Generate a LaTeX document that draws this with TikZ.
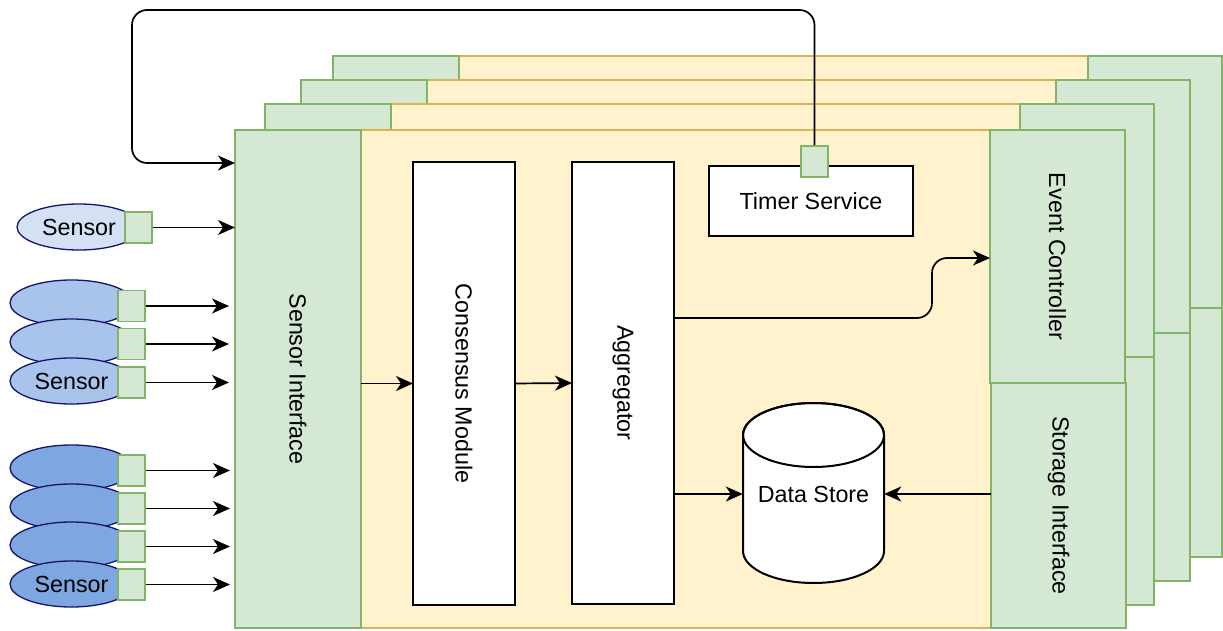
\documentclass[tikz,border=0pt]{standalone}
\usepackage{fontspec}
\setmainfont{Liberation Sans}
\usetikzlibrary{arrows.meta,shapes.geometric}

\definecolor{greenfill}{HTML}{D5E8D4}
\definecolor{greenline}{HTML}{82B366}
\definecolor{yelfill}{HTML}{FFF2CC}
\definecolor{yelline}{HTML}{D6B656}
\definecolor{sensA}{HTML}{D4E1F5}
\definecolor{sensB}{HTML}{A9C4EB}
\definecolor{sensC}{HTML}{7EA6E0}
\definecolor{sensline}{HTML}{14146E}

\tikzset{
  panel/.style={draw=greenline, fill=greenfill, line width=1.8pt},
  frame/.style={draw=yelline, fill=yelfill, line width=1.8pt},
  boxnode/.style={anchor=north west, inner sep=0pt, outer sep=0pt},
  comp/.style={draw=black, fill=white, line width=2pt},
  port/.style={draw=greenline, fill=greenfill, line width=1.8pt,
    minimum width=27pt, minimum height=31pt, inner sep=0pt},
  sensor/.style={ellipse, draw=sensline, line width=1.3pt,
    minimum width=123pt, minimum height=46pt, inner sep=0pt},
  flow/.style={line width=1.7pt, -{Stealth[length=17pt,width=15pt,inset=5pt]}},
  lbl/.style={font=\fontsize{23.3}{28}\selectfont}
}

% one stacked tier behind the front one:
% #1 left panel x, #2 right panel x, #3 top y, #4 split y, #5 bottom y
\newcommand{\backtier}[5]{%
  \path[frame] (#1+113,#3) rectangle (#2+20,#5);
  \path[panel] (#1,#3) rectangle (#1+126,#5);
  \path[panel] (#2,#3) rectangle (#2+134,#4);
  \path[panel] (#2,#4) rectangle (#2+134,#5);
}

\begin{document}
\begin{tikzpicture}[x=1pt, y=-1pt, lbl]
\useasboundingbox (0,0) rectangle (1223,631);

% stacked tiers, back to front
\backtier{333}{1088}{56}{308}{557}
\backtier{301}{1056}{80}{333}{581}
\backtier{265}{1020}{104}{357}{605}

% front tier
\path[frame] (348,130) rectangle (1010,628);
\node[panel, boxnode, minimum width=126pt, minimum height=498pt] (si) at (235,130)
  {\rotatebox{-90}{Sensor Interface}};
\node[panel, boxnode, minimum width=135pt, minimum height=253pt] (ec) at (990,130)
  {\rotatebox{-90}{Event Controller}};
\node[panel, boxnode, minimum width=135pt, minimum height=245pt] (sti) at (991,383)
  {\rotatebox{-90}{Storage Interface}};

% inner components
\node[comp, boxnode, minimum width=102pt, minimum height=443pt] (cm) at (413,162)
  {\rotatebox{-90}{Consensus Module}};
\node[comp, boxnode, minimum width=102pt, minimum height=442pt] (ag) at (572,162)
  {\rotatebox{-90}{Aggregator}};
\node[comp, boxnode, minimum width=204pt, minimum height=70pt] (ts) at (709,166)
  {Timer Service};
\node[port] (tport) at (814.5,161.5) {};

% data store cylinder
\filldraw[comp] (743,435) -- (743,551)
  arc[start angle=180, end angle=360, x radius=70.5pt, y radius=32pt]
  -- (884,435)
  arc[start angle=0, end angle=180, x radius=70.5pt, y radius=32pt] -- cycle;
\draw[line width=2pt] (813.5,435) ellipse[x radius=70.5pt, y radius=32pt];
\node[inner sep=0pt, minimum width=141pt, minimum height=180pt] (ds) at (813.5,494) {Data Store};

% sensors
\node[sensor, fill=sensA, minimum width=124pt] (s1) at (79,227) {Sensor};
\node[port] (p1) at (138.5,227.5) {};

\node[sensor, fill=sensB] (s2a) at (71.5,303) {};
\node[sensor, fill=sensB] (s2b) at (71.5,342) {};
\node[sensor, fill=sensB] (s2c) at (71.5,381) {Sensor};
\node[port] (p2a) at (131.5,306) {};
\node[port] (p2b) at (131.5,344) {};
\node[port] (p2c) at (131.5,382.5) {};

\node[sensor, fill=sensC] (s3a) at (71.5,468) {};
\node[sensor, fill=sensC] (s3b) at (71.5,507) {};
\node[sensor, fill=sensC] (s3c) at (71.5,545) {};
\node[sensor, fill=sensC] (s3d) at (71.5,584) {Sensor};
\node[port] (p3a) at (131.5,470.5) {};
\node[port] (p3b) at (131.5,508.5) {};
\node[port] (p3c) at (131.5,546.5) {};
\node[port] (p3d) at (131.5,584.5) {};

% free ends of the grouped sensor links
\coordinate (e2a) at (229,306);
\coordinate (e2b) at (229,344);
\coordinate (e2c) at (229,382.5);
\coordinate (e3a) at (230,470.5);
\coordinate (e3b) at (230,508.5);
\coordinate (e3c) at (230,546.5);
\coordinate (e3d) at (230,584.5);

% sensor links
\draw[flow] (p1.east) -- (si.west |- p1.east);
\foreach \p/\e in {p2a/e2a, p2b/e2b, p2c/e2c, p3a/e3a, p3b/e3b, p3c/e3c, p3d/e3d}
  \draw[flow] (\p.east) -- (\e);

% timer feedback loop
\draw[flow, rounded corners=15pt] (tport.north) -- (tport.north |- 0,10)
  -- (132,10) -- (132,163) -- (si.west |- 0,163);

% main data path
\draw[flow] (si.east |- cm.west) -- (cm.west);
\draw[flow] (cm.east) -- (ag.west);
\draw[flow, rounded corners=15pt] (ag.east |- 0,318) -| (932,258) -- (ec.west |- 0,258);
\draw[flow] (ag.east |- ds.west) -- (ds.west);
\draw[flow] (sti.west |- ds.east) -- (ds.east);
\end{tikzpicture}
\end{document}
